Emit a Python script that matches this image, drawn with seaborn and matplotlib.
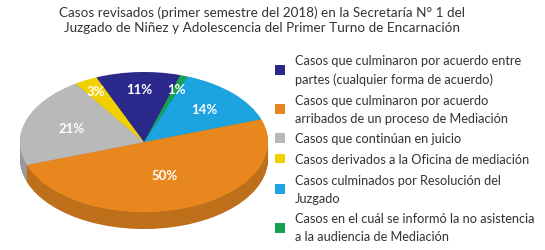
import numpy as np
import matplotlib
matplotlib.use('Agg')
import matplotlib.pyplot as plt
import matplotlib.colors as mcolors
import seaborn as sns

# datos (orden de la leyenda)
categorias = ['Casos que culminaron por acuerdo entre\npartes (cualquier forma de acuerdo)',
              'Casos que culminaron por acuerdo\narribados de un proceso de Mediación',
              'Casos que continúan en juicio',
              'Casos derivados a la Oficina de mediación',
              'Casos culminados por Resolución del\nJuzgado',
              'Casos en el cuál se informó la no asistencia\na la audiencia de Mediación']
valores = [11, 50, 21, 3, 14, 1]
colores = ['#2b2a8c', '#e8871e', '#b9b9b9', '#f2d000', '#1ba4e0', '#17a052']

titulo = ('Casos revisados (primer semestre del 2018) en la Secretaría N° 1 del\n'
          'Juzgado de Niñez y Adolescencia del Primer Turno de Encarnación')

# orden de las porciones en la torta (sentido horario desde arriba)
orden_pie = [0, 5, 4, 1, 2, 3]
# distancia de las etiquetas al centro, por porción (orden de la torta)
dist_etiqueta = [0.76, 0.8, 0.68, 0.5, 0.62, 0.82]

sns.set_theme(style='white')
plt.rcParams['font.family'] = ['Lato', 'DejaVu Sans']

fig = plt.figure(figsize=(5.45, 2.51), dpi=100)
ax = fig.add_axes([20/545, 21/251, 248/545, 157/251])

vals = [valores[i] for i in orden_pie]
cols = [colores[i] for i in orden_pie]
lados = [tuple(np.array(mcolors.to_rgb(c)) * 0.82) for c in cols]

prof = 0.24
inicio = 112.6

# costado de la torta (capas oscuras apiladas)
for k in np.linspace(prof, 0.01, 30):
    ax.pie(vals, colors=lados, startangle=inicio, counterclock=False,
           center=(0, -k), wedgeprops=dict(linewidth=0))

wedges, texts, autotexts = ax.pie(vals, colors=cols, startangle=inicio,
                                  counterclock=False, autopct='%.0f%%',
                                  wedgeprops=dict(linewidth=0),
                                  textprops=dict(color='white', fontsize=9.5,
                                                 fontweight='bold'))
for w, t, r in zip(wedges, autotexts, dist_etiqueta):
    th = np.deg2rad((w.theta1 + w.theta2) / 2)
    t.set_position((r * np.cos(th), r * np.sin(th)))
    t.set_zorder(10)

ax.set_aspect('auto')
ax.set_xlim(-1, 1)
ax.set_ylim(-1 - prof, 1)
ax.axis('off')

# leyenda en orden original
handles = [None] * len(categorias)
for w, i in zip(wedges, orden_pie):
    handles[i] = w
leg = fig.legend(handles, categorias, loc='upper left', bbox_to_anchor=(275/545, 1 - 55/251),
                 frameon=False, fontsize=9.2, handlelength=0.8, handleheight=0.8,
                 handletextpad=0.75, labelspacing=0.68, borderpad=0, borderaxespad=0,
                 labelcolor='#333333')
for t in leg.get_texts():
    t.set_linespacing(1.6)

fig.text(262/545, 1 - 6/251, titulo, ha='center', va='top', fontsize=9.7,
         color='#333333', linespacing=1.35)

fig.savefig('out.png', dpi=100)
